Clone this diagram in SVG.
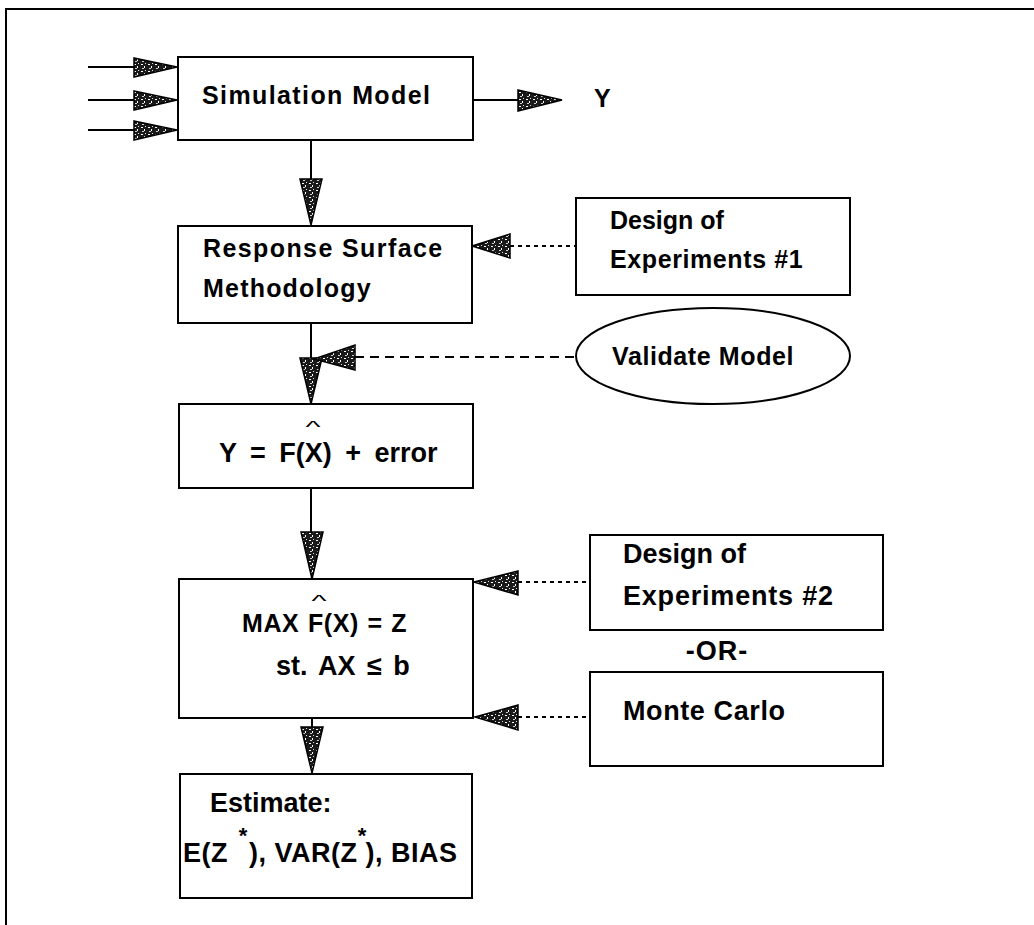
<svg xmlns="http://www.w3.org/2000/svg" width="1034" height="925" viewBox="0 0 1034 925">
  <defs>
    <!-- speckled fill used by all arrowheads -->
    <pattern id="speckle" width="7" height="7" patternUnits="userSpaceOnUse">
      <rect width="7" height="7" fill="#1a1a1a"/>
      <rect x="1" y="1" width="2" height="1" fill="#ffffff"/>
      <rect x="4" y="3" width="1" height="2" fill="#ffffff"/>
      <rect x="2" y="5" width="2" height="1" fill="#d0d0d0"/>
      <rect x="5" y="0" width="1" height="1" fill="#e0e0e0"/>
    </pattern>
    <style>
      .box { fill: #ffffff; stroke: #000000; stroke-width: 2; }
      .line { fill: none; stroke: #000000; stroke-width: 2; }
      .dotted { fill: none; stroke: #000000; stroke-width: 2; stroke-dasharray: 4 4; }
      .dashed { fill: none; stroke: #000000; stroke-width: 2; stroke-dasharray: 9 6; }
      .head { fill: url(#speckle); stroke: #000000; stroke-width: 1.5; stroke-linejoin: miter; }
      .lbl { font-family: "Liberation Sans", Arial, Helvetica, sans-serif; font-weight: bold; font-size: 25px; fill: #000000; }
      .big { font-size: 27px; }
      .hat { font-family: "Liberation Sans", Arial, sans-serif; font-weight: normal; font-size: 20px; fill: #000000; }
      .star { font-size: 22px; }
    </style>
  </defs>

  <rect width="1034" height="925" fill="#ffffff"/>

  <!-- page frame (top and left edges) -->
  <path class="line" d="M6 925 V9 H1034"/>

  <!-- connectors -->
  <g id="connectors">
    <!-- inputs into the simulation model -->
    <line class="line" x1="88" y1="67" x2="134" y2="67"/>
    <line class="line" x1="88" y1="100" x2="134" y2="100"/>
    <line class="line" x1="88" y1="130" x2="134" y2="130"/>
    <polygon class="head" points="134,58 177,67 134,77"/>
    <polygon class="head" points="134,91 177,100 134,110"/>
    <polygon class="head" points="134,121 177,130 134,140"/>

    <!-- output Y -->
    <line class="line" x1="473" y1="100" x2="518" y2="100"/>
    <polygon class="head" points="518,90 562,100 518,111"/>

    <!-- simulation model to RSM -->
    <line class="line" x1="311" y1="140" x2="311" y2="179"/>
    <polygon class="head" points="300,179 322,179 311,225"/>

    <!-- design of experiments #1 to RSM -->
    <line class="dotted" x1="510" y1="246" x2="576" y2="246"/>
    <polygon class="head" points="472,246 510,234 510,258"/>

    <!-- RSM to fitted model, with validation feed -->
    <line class="line" x1="311" y1="323" x2="311" y2="358"/>
    <polygon class="head" points="300,358 322,358 311,404"/>
    <line class="dashed" x1="355" y1="357" x2="576" y2="357"/>
    <polygon class="head" points="314,359 355,345 355,370"/>

    <!-- fitted model to optimisation -->
    <line class="line" x1="311" y1="488" x2="311" y2="532"/>
    <polygon class="head" points="301,532 323,532 312,579"/>

    <!-- design of experiments #2 to optimisation -->
    <line class="dotted" x1="518" y1="582" x2="590" y2="582"/>
    <polygon class="head" points="474,582 518,571 518,595"/>

    <!-- monte carlo to optimisation -->
    <line class="dotted" x1="518" y1="717" x2="590" y2="717"/>
    <polygon class="head" points="475,717 518,705 518,730"/>

    <!-- optimisation to estimate -->
    <line class="line" x1="312" y1="718" x2="312" y2="727"/>
    <polygon class="head" points="301,727 323,727 312,773"/>
  </g>

  <g id="simulation-model">
    <rect class="box" x="178" y="57" width="295" height="83"/>
    <text class="lbl" x="202" y="104" letter-spacing="1.4">Simulation Model</text>
  </g>

  <g id="output-y">
    <text class="lbl" x="594" y="107">Y</text>
  </g>

  <g id="rsm">
    <rect class="box" x="178" y="226" width="294" height="97"/>
    <text class="lbl" x="203" y="257" letter-spacing="1.4">Response Surface</text>
    <text class="lbl" x="203" y="297" letter-spacing="1.2">Methodology</text>
  </g>

  <g id="doe-1">
    <rect class="box" x="576" y="198" width="274" height="97"/>
    <text class="lbl" x="610" y="229">Design of</text>
    <text class="lbl" x="610" y="268" letter-spacing="0.6">Experiments #1</text>
  </g>

  <g id="validate-model">
    <ellipse class="box" cx="713" cy="356" rx="137" ry="48"/>
    <text class="lbl" x="612" y="365" letter-spacing="0.6">Validate Model</text>
  </g>

  <g id="fitted-model">
    <rect class="box" x="179" y="404" width="294" height="84"/>
    <!-- circumflex over F, widened and flattened -->
    <text class="hat" transform="translate(313 433) scale(1.6 0.8)" text-anchor="middle">^</text>
    <text class="lbl big" x="219" y="462" word-spacing="6">Y = F(X) + error</text>
  </g>

  <g id="optimisation">
    <rect class="box" x="179" y="579" width="294" height="139"/>
    <text class="hat" transform="translate(319 607) scale(1.6 0.8)" text-anchor="middle">^</text>
    <text class="lbl" x="242" y="632" font-size="26" letter-spacing="0.6" word-spacing="1">MAX F(X) = Z</text>
    <text class="lbl big" x="276" y="675" word-spacing="4">st. AX ≤ b</text>
  </g>

  <g id="doe-2">
    <rect class="box" x="590" y="535" width="293" height="95"/>
    <text class="lbl big" x="623" y="563">Design of</text>
    <text class="lbl big" x="623" y="605" letter-spacing="0.8">Experiments #2</text>
  </g>

  <g id="or-label">
    <text class="lbl big" x="717" y="660" text-anchor="middle" letter-spacing="1">-OR-</text>
  </g>

  <g id="monte-carlo">
    <rect class="box" x="590" y="672" width="293" height="94"/>
    <text class="lbl big" x="623" y="720" letter-spacing="0.6">Monte Carlo</text>
  </g>

  <g id="estimate">
    <rect class="box" x="180" y="774" width="292" height="124"/>
    <text class="lbl big" x="210" y="812">Estimate:</text>
    <text class="lbl star" x="243" y="843" text-anchor="middle">*</text>
    <text class="lbl star" x="362" y="843" text-anchor="middle">*</text>
    <text class="lbl big" x="183" y="862" letter-spacing="0.5">E(Z<tspan dx="13"> ),</tspan> VAR(Z ), BIAS</text>
  </g>
</svg>
